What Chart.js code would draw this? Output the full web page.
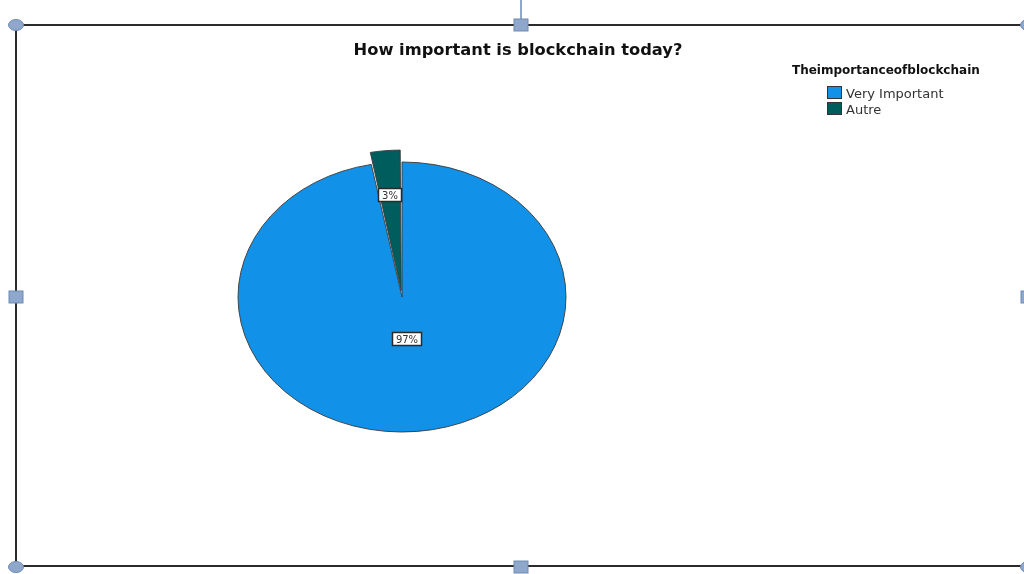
<!DOCTYPE html>
<html>
<head>
<meta charset="utf-8">
<title>How important is blockchain today?</title>
<script src="https://cdn.jsdelivr.net/npm/chart.js@4.4.0/dist/chart.umd.min.js"></script>
<style>
  html, body { margin: 0; padding: 0; background: #fff; }
  #wrap { position: relative; width: 1024px; height: 574px; overflow: hidden; }
</style>
</head>
<body>
<div id="wrap"><canvas id="pie" width="1024" height="574"></canvas></div>
<script>
var chartTitle = 'How important is blockchain today?';
var legendTitle = 'Theimportanceofblockchain';
var categories = ['Very Important', 'Autre'];
var percents = [97, 3];
var sliceColors = ['#1192e8', '#005d5d'];
var explode = [0, 32];

// the pie is drawn round, then flattened into an ellipse
var squash = 135 / 164;
// how far out (fraction of radius) each percent box sits
var labelDepth = [0.31, 0.76];

var total = percents.reduce(function (a, b) { return a + b; }, 0);

var ellipsePlugin = {
  id: 'ellipse',
  beforeDatasetsDraw: function (chart) {
    var arc = chart.getDatasetMeta(0).data[0];
    var ctx = chart.ctx;
    ctx.save();
    ctx.translate(arc.x, arc.y);
    ctx.scale(1, squash);
    ctx.translate(-arc.x, -arc.y);
  },
  afterDatasetsDraw: function (chart) {
    var ctx = chart.ctx;
    ctx.restore();
    ctx.save();
    ctx.font = '10px "DejaVu Sans"';
    ctx.textAlign = 'center';
    ctx.textBaseline = 'middle';
    chart.getDatasetMeta(0).data.forEach(function (arc, i) {
      var p = arc.getProps(['x', 'y', 'startAngle', 'endAngle', 'outerRadius']);
      var mid = (p.startAngle + p.endAngle) / 2;
      var r = p.outerRadius * labelDepth[i];
      var x = Math.round(p.x + Math.cos(mid) * r);
      var y = Math.round(p.y + Math.sin(mid) * r * squash);
      var text = Math.round(percents[i] / total * 100) + '%';
      var w = Math.round(ctx.measureText(text).width) + 8;
      var h = 14;
      ctx.fillStyle = '#fff';
      ctx.fillRect(x - w / 2, y - h / 2, w, h);
      ctx.strokeStyle = '#2a2a2a';
      ctx.lineWidth = 1.5;
      ctx.strokeRect(x - w / 2 + 0.5, y - h / 2 + 0.5, w - 1, h - 1);
      ctx.fillStyle = '#333';
      ctx.fillText(text, x, y + 1);
    });
    ctx.restore();
  }
};

function roundHandle(ctx, x, y) {
  ctx.beginPath();
  ctx.ellipse(x, y, 7.5, 5.5, 0, 0, Math.PI * 2);
  ctx.fill();
  ctx.stroke();
}

function squareHandle(ctx, x, y) {
  ctx.fillRect(x - 7, y - 6, 14, 12);
  ctx.strokeRect(x - 7, y - 6, 14, 12);
}

var decorPlugin = {
  id: 'decor',
  afterDraw: function (chart) {
    var ctx = chart.ctx;
    ctx.save();

    // selection frame
    ctx.strokeStyle = '#2b2b2b';
    ctx.lineWidth = 2;
    ctx.beginPath();
    ctx.moveTo(1030, 25);
    ctx.lineTo(16, 25);
    ctx.lineTo(16, 566);
    ctx.lineTo(1030, 566);
    ctx.stroke();

    ctx.strokeStyle = '#8ea7cb';
    ctx.beginPath();
    ctx.moveTo(521, 0);
    ctx.lineTo(521, 19);
    ctx.stroke();

    ctx.fillStyle = '#8ea7cb';
    ctx.strokeStyle = '#6f8bb5';
    ctx.lineWidth = 1;
    roundHandle(ctx, 16, 25);
    roundHandle(ctx, 1028, 25);
    roundHandle(ctx, 16, 567);
    roundHandle(ctx, 1028, 567);
    squareHandle(ctx, 521, 25);
    squareHandle(ctx, 521, 567);
    squareHandle(ctx, 16, 297);
    squareHandle(ctx, 1028, 297);

    // title
    ctx.fillStyle = '#111';
    ctx.textAlign = 'center';
    ctx.textBaseline = 'alphabetic';
    ctx.font = 'bold 16.3px "DejaVu Sans"';
    ctx.fillText(chartTitle, 518, 55);

    // legend
    ctx.font = 'bold 12px "DejaVu Sans"';
    ctx.textAlign = 'left';
    ctx.fillText(legendTitle, 792, 74);
    ctx.font = '13px "DejaVu Sans"';
    categories.forEach(function (name, i) {
      var top = 86 + i * 16;
      ctx.fillStyle = sliceColors[i];
      ctx.fillRect(827, top, 15, 13);
      ctx.strokeStyle = '#333';
      ctx.strokeRect(827.5, top + 0.5, 14, 12);
      ctx.fillStyle = '#333';
      ctx.fillText(name, 846, top + 12);
    });

    ctx.restore();
  }
};

new Chart(document.getElementById('pie'), {
  type: 'pie',
  data: {
    labels: categories,
    datasets: [{
      data: percents,
      backgroundColor: sliceColors,
      borderColor: '#3a3a3a',
      borderWidth: 1,
      offset: explode,
      radius: 164
    }]
  },
  options: {
    responsive: false,
    animation: false,
    events: [],
    layout: { padding: { left: 0, right: 220, top: 20, bottom: 0 } },
    plugins: {
      legend: { display: false },
      title: { display: false },
      tooltip: { enabled: false }
    }
  },
  plugins: [ellipsePlugin, decorPlugin]
});
</script>
</body>
</html>
